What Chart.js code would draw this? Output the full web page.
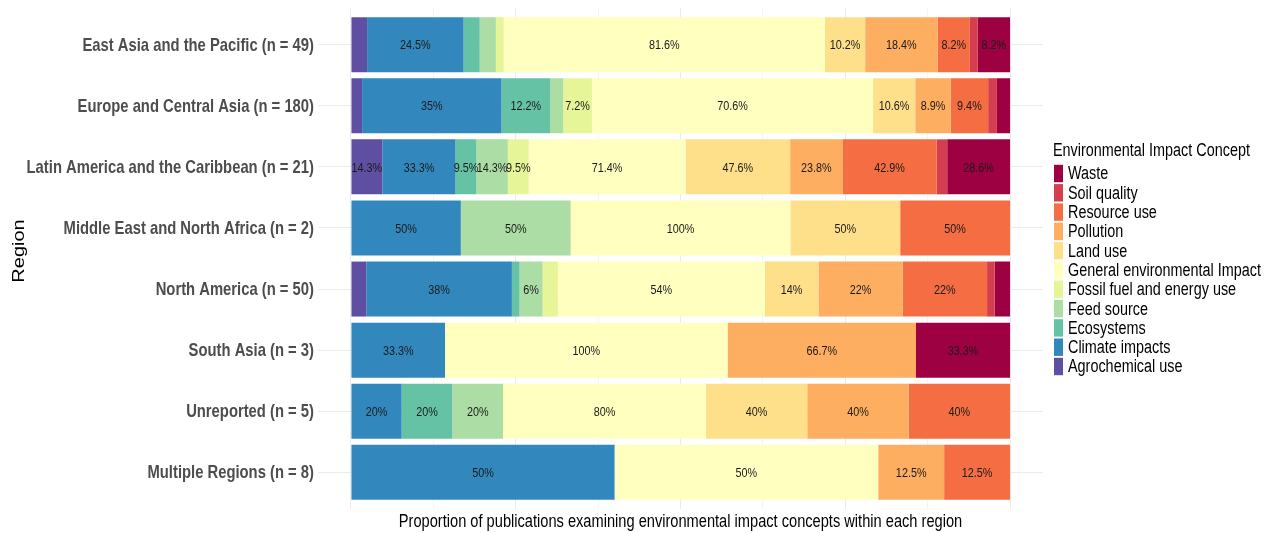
<!DOCTYPE html>
<html>
<head>
<meta charset="utf-8">
<script src="https://cdn.jsdelivr.net/npm/chart.js@4/dist/chart.umd.min.js"></script>
<style>
  html, body { margin: 0; padding: 0; background: #fff; }
</style>
</head>
<body>
<canvas id="chart" width="1267" height="533"></canvas>
<script>
// regions, top to bottom
const regions = ['East Asia and the Pacific (n = 49)', 'Europe and Central Asia (n = 180)',
  'Latin America and the Caribbean (n = 21)', 'Middle East and North Africa (n = 2)',
  'North America (n = 50)', 'South Asia (n = 3)', 'Unreported (n = 5)', 'Multiple Regions (n = 8)'];

const concepts = ['Agrochemical use', 'Climate impacts', 'Ecosystems', 'Feed source',
  'Fossil fuel and energy use', 'General environmental Impact', 'Land use', 'Pollution',
  'Resource use', 'Soil quality', 'Waste'];

const colors = ['#5E4FA2', '#3288BD', '#66C2A5', '#ABDDA4', '#E6F598', '#FFFFBF',
  '#FEE08B', '#FDAE61', '#F46D43', '#D53E4F', '#9E0142'];

const agrochemical = [4.1, 2.8, 14.3, 0, 4, 0, 0, 0];
const climate      = [24.5, 35, 33.3, 50, 38, 33.3, 20, 50];
const ecosystems   = [4.1, 12.2, 9.5, 0, 2, 0, 20, 0];
const feed         = [4.1, 3.3, 14.3, 50, 6, 0, 20, 0];
const fossil       = [2.0, 7.2, 9.5, 0, 4, 0, 0, 0];
const general      = [81.6, 70.6, 71.4, 100, 54, 100, 80, 50];
const land         = [10.2, 10.6, 47.6, 50, 14, 0, 40, 0];
const pollution    = [18.4, 8.9, 23.8, 0, 22, 66.7, 40, 12.5];
const resource     = [8.2, 9.4, 42.9, 50, 22, 0, 40, 12.5];
const soil         = [2.0, 2.2, 4.8, 0, 2, 0, 0, 0];
const waste        = [8.2, 3.3, 28.6, 0, 4, 33.3, 0, 0];

const series = [agrochemical, climate, ecosystems, feed, fossil, general, land, pollution,
  resource, soil, waste];

const xTicks = [0, 0.125, 0.25, 0.375, 0.5, 0.625, 0.75, 0.875, 1];

const xTitle = 'Proportion of publications examining environmental impact concepts within each region';
const yTitle = 'Region';
const legendTitle = 'Environmental Impact Concept';

const SANS = "'Liberation Sans', Arial, sans-serif";
const SQUEEZE = 0.8;   // the text in the picture is condensed

// bars are filled to the full width: each row scaled by its own total
const rowTotals = regions.map((r, i) => series.reduce((s, arr) => s + arr[i], 0));

const datasets = series.map((arr, k) => ({
    label: concepts[k],
    data: arr.map((v, i) => ({y: i, x: v / rowTotals[i]})),
    backgroundColor: colors[k],
    borderWidth: 0,
    barPercentage: 0.9,
    categoryPercentage: 1
}));

const fmt = v => (Math.round(v * 10) / 10) + '%';

// condensed text helper
function squeezed(ctx, text, x, y, align) {
    ctx.save();
    ctx.translate(x, y);
    ctx.scale(SQUEEZE, 1);
    ctx.textAlign = align;
    ctx.fillText(text, 0, 0);
    ctx.restore();
}

const barLabels = {
    id: 'barLabels',
    afterDatasetsDraw(chart) {
        const ctx = chart.ctx;
        ctx.save();
        ctx.font = `13.5px ${SANS}`;
        ctx.fillStyle = '#1a1a1a';
        ctx.textBaseline = 'middle';
        chart.data.datasets.forEach((ds, k) => {
            chart.getDatasetMeta(k).data.forEach((bar, i) => {
                const v = series[k][i];
                if (v <= 5) return;
                const p = bar.getCenterPoint();
                squeezed(ctx, fmt(v), p.x, p.y + 1, 'center');
            });
        });
        ctx.restore();
    }
};

const axisText = {
    id: 'axisText',
    afterDraw(chart) {
        const ctx = chart.ctx, area = chart.chartArea, y = chart.scales.y;
        ctx.save();
        ctx.textBaseline = 'middle';
        // region labels
        ctx.font = `bold 18.5px ${SANS}`;
        ctx.fillStyle = '#4d4d4d';
        regions.forEach((r, i) => squeezed(ctx, r, area.left - 4, y.getPixelForValue(i) + 1, 'right'));
        // x title
        ctx.font = `18.3px ${SANS}`;
        ctx.fillStyle = '#000';
        squeezed(ctx, xTitle, (area.left + area.right) / 2, 522, 'center');
        // y title, rotated
        ctx.save();
        ctx.translate(20, 251);
        ctx.rotate(-Math.PI / 2);
        ctx.scale(1, SQUEEZE);
        ctx.font = `20px ${SANS}`;
        ctx.textAlign = 'center';
        ctx.fillText(yTitle, 0, 0);
        ctx.restore();
        ctx.restore();
    }
};

const sideLegend = {
    id: 'sideLegend',
    afterDraw(chart) {
        const ctx = chart.ctx;
        const x0 = chart.chartArea.right + 10;
        ctx.save();
        ctx.font = `18px ${SANS}`;
        ctx.fillStyle = '#000';
        ctx.textBaseline = 'middle';
        squeezed(ctx, legendTitle, x0, 151, 'left');
        chart.data.datasets.slice().reverse().forEach((ds, i) => {
            const y = 173.5 + i * 19.3;
            ctx.fillStyle = ds.backgroundColor;
            ctx.fillRect(x0 + 1, y - 8.7, 9, 17.4);
            ctx.fillStyle = '#000';
            squeezed(ctx, ds.label, x0 + 15, y + 1, 'left');
        });
        ctx.restore();
    }
};

new Chart(document.getElementById('chart'), {
    type: 'bar',
    data: {datasets: datasets},
    plugins: [barLabels, axisText, sideLegend],
    options: {
        indexAxis: 'y',
        responsive: false,
        animation: false,
        layout: {padding: {top: 8, right: 224, left: 0, bottom: 0}},
        plugins: {
            legend: {display: false},
            tooltip: {enabled: false}
        },
        scales: {
            x: {
                type: 'linear',
                stacked: true,
                min: -0.05,
                max: 1.05,
                afterBuildTicks: s => { s.ticks = xTicks.map(v => ({value: v})); },
                afterFit: s => { s.height = 24; },
                ticks: {display: false},
                grid: {
                    color: '#ebebeb',
                    drawTicks: false,
                    lineWidth: c => (c.tick && Math.abs(c.tick.value * 4 - Math.round(c.tick.value * 4)) < 1e-6) ? 1 : 0.5
                },
                border: {display: false}
            },
            y: {
                type: 'linear',
                stacked: true,
                reverse: true,
                offset: false,
                min: -0.6,
                max: 7.6,
                afterBuildTicks: s => { s.ticks = regions.map((r, i) => ({value: i})); },
                afterFit: s => { s.width = 318; s.paddingTop = 0; s.paddingBottom = 0; },
                ticks: {display: false},
                grid: {color: '#ebebeb', drawTicks: false, offset: false, lineWidth: 1},
                border: {display: false}
            }
        }
    }
});
</script>
</body>
</html>
